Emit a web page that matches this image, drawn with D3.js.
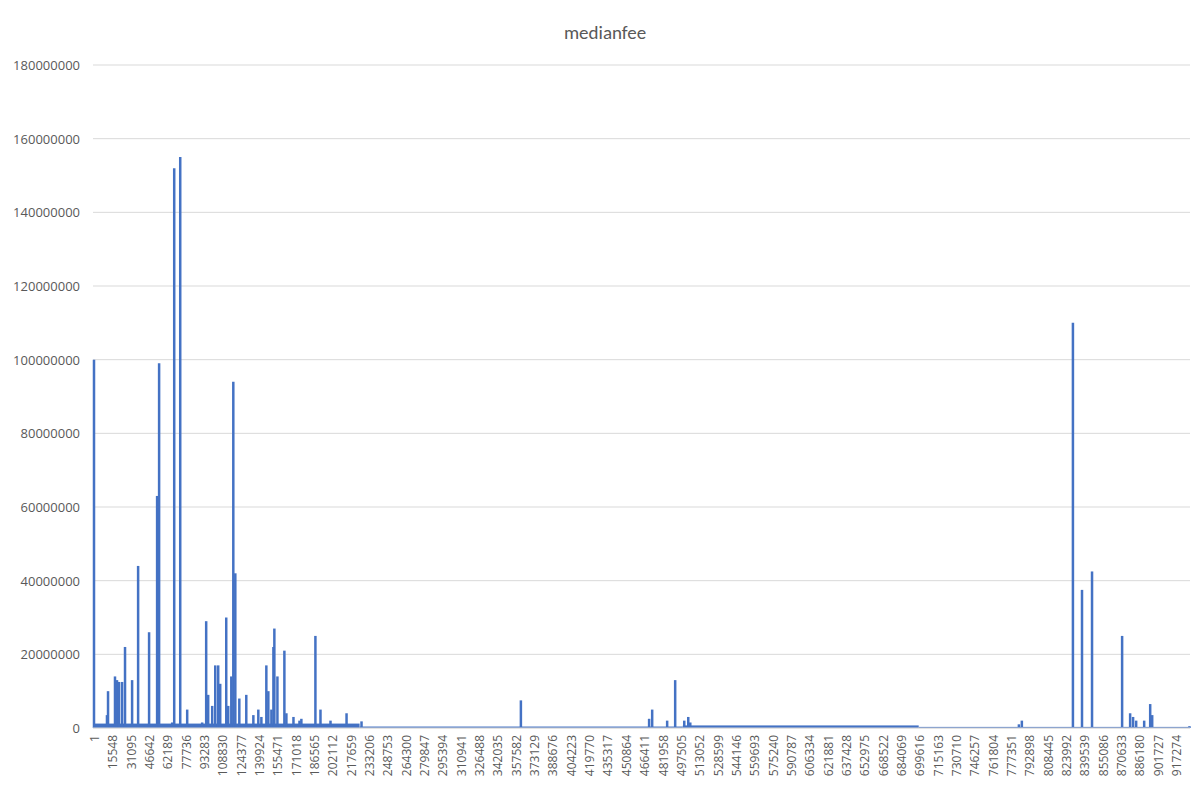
<!DOCTYPE html><html><head><meta charset="utf-8"><script src="https://cdn.jsdelivr.net/npm/d3@7"></script>
<style>body{margin:0;background:#fff}</style></head><body><svg id="c" width="1200" height="789"></svg>
<script>
const title = "medianfee";
const spikeIndex = [1,11900,11000,17800,19500,21200,23800,26300,32300,37400,46700,53500,55200,66300,68000,73100,79000,91700,95100,96800,100200,102800,105300,107000,112100,113800,116400,118100,119800,123200,129100,135100,139300,141900,146100,147800,150400,152100,152900,155500,161400,163100,169100,174200,175800,187700,192000,200500,214100,226800,361900,470600,473200,485900,492700,500400,503800,505500,784100,786600,829900,837600,846100,871600,878400,880900,883500,890300,895400,897100,928700];
const spikeValue = [100e6,10e6,3.5e6,14e6,13e6,12.5e6,12.5e6,22e6,13e6,44e6,26e6,63e6,99e6,1.5e6,152e6,155e6,5e6,1.5e6,29e6,9e6,6e6,17e6,17e6,12e6,30e6,6e6,14e6,94e6,42e6,8e6,9e6,3.5e6,5e6,3e6,17e6,10e6,5e6,22e6,27e6,14e6,21e6,4e6,3e6,2e6,2.5e6,25e6,5e6,2e6,4e6,1.8e6,7.5e6,2.5e6,5e6,2e6,13e6,2e6,3e6,1.5e6,1e6,2e6,110e6,37.5e6,42.5e6,25e6,4e6,3e6,2e6,2e6,6.5e6,3.5e6,0.5e6];
const baseStart = [0,226000,500000,700000,1060000];
const baseEnd = [226000,500000,700000,930000,930000];
const baseLevel = [1.2e6,0.4e6,0.7e6,0.3e6,0];
const tickLabels = d3.range(60).map(i => String(1 + i*15547));
const yTicks = d3.range(0, 180e6+1, 20e6);

const svg = d3.select("#c");
const x = d3.scaleLinear().domain([0,930000]).range([93,1190]);
const y = d3.scaleLinear().domain([0,180e6]).range([728,65]);
svg.append("text").attr("x",605).attr("y",39).attr("text-anchor","middle").attr("font-family","Calibri, Carlito, 'Open Sans', sans-serif").attr("font-size",19).attr("fill","#595959").text(title);
svg.append("g").selectAll("line").data(yTicks).join("line").attr("x1",93).attr("x2",1190).attr("y1",d=>y(d)).attr("y2",d=>y(d)).attr("stroke","#d9d9d9");
svg.append("g").selectAll("text").data(yTicks).join("text").attr("x",80).attr("y",d=>y(d)+5).attr("text-anchor","end").attr("font-family","'Open Sans', sans-serif").attr("font-size",13).attr("fill","#595959").text(d=>d);
const col="#4472c4";
svg.append("g").selectAll("rect").data(baseStart).join("rect").attr("x",(d)=>x(d)).attr("width",(d,i)=>x(baseEnd[i])-x(d)).attr("y",(d,i)=>y(baseLevel[i])).attr("height",(d,i)=>728-y(baseLevel[i])).attr("fill",col);
svg.append("g").selectAll("line").data(spikeIndex).join("line").attr("x1",d=>x(d)+1).attr("x2",d=>x(d)+1).attr("y1",728).attr("y2",(d,i)=>y(spikeValue[i])).attr("stroke",col).attr("stroke-width",2.5);
svg.append("line").attr("x1",93).attr("x2",1190).attr("y1",728).attr("y2",728).attr("stroke","#d9d9d9");
svg.append("g").selectAll("text").data(tickLabels).join("text").attr("transform",(d,i)=>`translate(${x(i*15547)+6},735) rotate(-90)`).attr("text-anchor","end").attr("font-family","'Open Sans', sans-serif").attr("font-size",12).attr("fill","#595959").text(d=>d);
</script></body></html>
